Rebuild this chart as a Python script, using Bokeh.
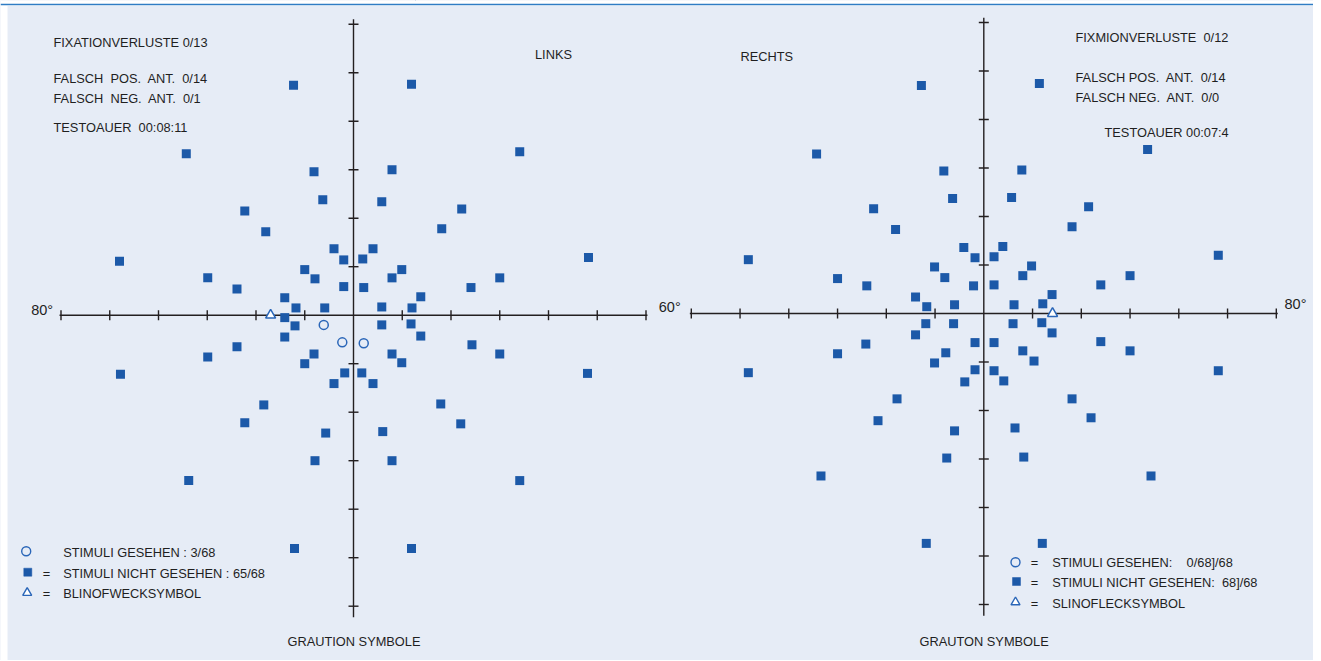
import numpy as np
from bokeh.plotting import figure
from bokeh.models import Range1d, Label, Span, BoxAnnotation
from bokeh.embed import file_html
from bokeh.resources import INLINE

# ---------------- data (degrees of visual field) ----------------
TICKS = [-60, -50, -40, -30, -20, -10, 10, 20, 30, 40, 50, 60]
AXIS_H = [-60.3, 60.3]
AXIS_V = [-62.3, 61.0]

L_NOT_SEEN_X = [-12.3, 11.9, -34.3, 34.1, -8.1, 7.9, -6.3, 5.8, -22.3, 22.2, -18.0, 18.1,
                -4.0, 4.0, -2.0, 1.9, -10.0, 9.9, -29.9, -7.9, 7.9, 30.0, -23.9, -2.0,
                2.1, 24.1, -14.1, 13.8, -11.8, -5.9, 5.8, 12.0, -14.1, -12.0, 5.8, 11.8,
                -14.1, 13.8, -23.9, 24.3, -29.9, 30.0, -8.1, 7.9, -10.0, 9.9, -1.8, 1.7,
                -4.0, 4.0, -18.4, 17.9, -22.3, 22.0, -5.7, 6.0, -7.9, 7.9, -33.8, 34.1,
                -48.0, 48.2, -47.8, 48.0, -12.1, 11.9]
L_NOT_SEEN_Y = [47.4, 47.6, 33.3, 33.7, 29.6, 30.0, 23.8, 23.4, 21.5, 21.9, 17.2, 17.8,
                13.7, 13.7, 11.4, 11.6, 9.4, 9.4, 7.7, 7.5, 7.7, 7.7, 5.4, 5.9,
                5.7, 5.7, 3.6, 3.8, 1.5, 1.5, 1.7, 1.5, -0.5, -2.2, -2.0, -1.8,
                -4.5, -4.3, -6.5, -6.1, -8.6, -8.0, -8.0, -8.0, -10.0, -9.8, -11.9, -11.9,
                -14.1, -14.1, -18.5, -18.3, -22.2, -22.4, -24.3, -24.0, -30.0, -30.0, -34.1, -34.1,
                11.1, 11.9, -12.2, -12.0, -48.1, -48.1]
L_SEEN_X = [-6.1, -2.3, 2.1]
L_SEEN_Y = [-2.0, -5.6, -5.8]
L_BLIND_X = [-17.0]
L_BLIND_Y = [0.0]

R_NOT_SEEN_X = [-34.3, 33.6, -8.2, 7.8, -6.4, 5.7, -22.6, 21.5, -18.1, 18.1, -4.1, 3.9,
                -1.8, 2.1, -10.1, 9.8, -30.0, -8.0, 8.0, 30.0, -24.0, -2.1, 2.1, 24.0,
                -14.0, 14.0, -11.7, -6.0, 6.2, 12.1, -11.9, -6.2, 6.0, 11.9, -14.0, 14.0,
                -24.2, 24.0, -30.0, 30.0, -1.8, 2.1, -7.8, 8.0, -10.1, 10.3, -1.8, 2.1,
                -3.9, 4.1, -17.8, 18.1, -21.7, 22.0, -6.0, 6.4, -7.6, 8.2, -33.4, 34.3,
                -12.8, 11.4, -48.3, 48.1, -48.3, 48.1, -11.8, 12.0]
R_NOT_SEEN_Y = [32.9, 33.8, 29.4, 29.6, 23.7, 23.9, 21.6, 22.0, 17.3, 17.9, 13.6, 13.8,
                11.5, 11.7, 9.6, 9.8, 7.2, 7.4, 7.8, 7.8, 5.7, 5.7, 5.9, 5.9,
                3.4, 3.9, 1.4, 1.8, 1.8, 2.0, -2.1, -2.1, -2.1, -1.9, -4.4, -4.0,
                -6.3, -5.8, -8.3, -7.7, -6.0, -6.0, -8.1, -7.7, -10.2, -9.8, -11.6, -11.8,
                -14.1, -13.9, -17.6, -17.6, -22.1, -21.5, -24.2, -23.6, -29.8, -29.6, -33.5, -33.5,
                47.0, 47.4, 11.1, 12.0, -12.2, -11.8, -47.4, -47.4]
R_BLIND_X = [14.1]
R_BLIND_Y = [0.0]

NB = "\u00a0"
LEFT_INFO = ["FIXATIONVERLUSTE 0/13",
             f"FALSCH{NB} POS.{NB} ANT.{NB} 0/14",
             f"FALSCH{NB} NEG.{NB} ANT.{NB} 0/1",
             f"TESTOAUER{NB} 00:08:11"]
RIGHT_INFO = [f"FIXMIONVERLUSTE{NB} 0/12",
              f"FALSCH POS.{NB} ANT.{NB} 0/14",
              f"FALSCH NEG.{NB} ANT.{NB} 0/0",
              "TESTOAUER 00:07:4"]
LEFT_LEGEND = ["STIMULI GESEHEN : 3/68", "STIMULI NICHT GESEHEN : 65/68", "BLINOFWECKSYMBOL"]
RIGHT_LEGEND = [f"STIMULI GESEHEN:{NB}{NB}{NB} 0/68]/68",
                f"STIMULI NICHT GESEHEN:{NB} 68]/68",
                "SLINOFLECKSYMBOL"]
TITLES = ["LINKS", "RECHTS"]
FOOTERS = ["GRAUTION SYMBOLE", "GRAUTON SYMBOLE"]
DEG_LABELS = ["80°", "60°", "80°"]

assert len(L_NOT_SEEN_X) == len(L_NOT_SEEN_Y)
assert len(R_NOT_SEEN_X) == len(R_NOT_SEEN_Y)

# ---------------- style / layout ----------------
W, H = 1313, 660
PX_X, PX_Y = 4.875, 4.85
BG = "#e6ecf6"
AXC = "#231f20"
TXT = "#1f1f1f"
SQ = "#1c59a8"
OPEN = "#2a66b8"
TOPLINE = "#2f7cc4"
FONT = "Liberation Sans"
FS = 12.8
LEFT_C = (353.0, 314.7)
RIGHT_C = (983.3, 313.0)


def ranges(c):
    fx, fy = c
    return (Range1d(-fx / PX_X, (W - fx) / PX_X),
            Range1d(-(H - fy) / PX_Y, fy / PX_Y))


def xd(px, c=LEFT_C):
    return (px - c[0]) / PX_X


def yd(py, c=LEFT_C):
    return (c[1] - py) / PX_Y


lx, ly = ranges(LEFT_C)
rx, ry = ranges(RIGHT_C)

p = figure(width=W, height=H, x_range=lx, y_range=ly, output_backend="svg",
           toolbar_location=None, x_axis_location=None, y_axis_location=None,
           min_border=0, background_fill_color=BG, border_fill_color=BG,
           outline_line_color=None)
p.grid.visible = False
p.extra_x_ranges = {"R": rx}
p.extra_y_ranges = {"R": ry}

# page frame: white margin strip left and top, thin blue rule on top
p.add_layout(BoxAnnotation(right=xd(7), fill_color="white", fill_alpha=1, line_color=None))
p.add_layout(BoxAnnotation(bottom=yd(5.5), fill_color="white", fill_alpha=1, line_color=None))
p.add_layout(Span(location=yd(4), dimension="width", line_color=TOPLINE, line_width=1.6))
p.segment(x0=[xd(415)], y0=[yd(0)], x1=[xd(415)], y1=[yd(4)], line_color="#4a6f99", line_width=1)


def panel(rn, ns_x, ns_y, blind_x, blind_y, seen_x=None, seen_y=None):
    kw = dict(x_range_name=rn, y_range_name=rn)
    p.segment(x0=[AXIS_H[0], 0], y0=[0, AXIS_V[0]], x1=[AXIS_H[1], 0], y1=[0, AXIS_V[1]],
              line_color=AXC, line_width=1.4, **kw)
    p.scatter(x=TICKS, y=[0] * len(TICKS), marker="dash", angle=np.pi / 2, size=10,
              line_color=AXC, line_width=1.4, **kw)
    p.scatter(x=[0] * len(TICKS), y=TICKS, marker="dash", size=10,
              line_color=AXC, line_width=1.4, **kw)
    p.scatter(x=ns_x, y=ns_y, marker="square", size=9, fill_color=SQ, line_color=None, **kw)
    if seen_x:
        p.scatter(x=seen_x, y=seen_y, marker="circle", size=9, fill_color=None,
                  line_color=OPEN, line_width=1.5, **kw)
    p.scatter(x=blind_x, y=blind_y, marker="triangle", size=10, fill_color="white",
              line_color=OPEN, line_width=1.5, **kw)


panel("default", L_NOT_SEEN_X, L_NOT_SEEN_Y, L_BLIND_X, L_BLIND_Y, L_SEEN_X, L_SEEN_Y)
panel("R", R_NOT_SEEN_X, R_NOT_SEEN_Y, R_BLIND_X, R_BLIND_Y)


def lab(text, px, baseline, size=FS, font=FONT, align="left"):
    # empirical: rendered baseline sits ~0.355em below the requested y
    yb = baseline - 0.355 * size
    p.add_layout(Label(x=px, y=H - yb, x_units="screen", y_units="screen",
                       text=text, text_font=font, text_font_size=f"{size}px", text_color=TXT,
                       text_align=align, text_baseline="alphabetic"))


# info blocks
for t, yy in zip(LEFT_INFO, [46.5, 83.0, 102.7, 131.5]):
    lab(t, 53, yy)
for t, (xx, yy) in zip(RIGHT_INFO, [(1075, 41.7), (1075, 82.0), (1075, 101.7), (1104, 136.5)]):
    lab(t, xx, yy)
lab(TITLES[0], 534.5, 58.3)
lab(TITLES[1], 740, 60.5)
lab(FOOTERS[0], 287, 646)
lab(FOOTERS[1], 919, 646)
lab(DEG_LABELS[0], 30.7, 315, size=14.5)
lab(DEG_LABELS[1], 658.3, 311.7, size=14.5)
lab(DEG_LABELS[2], 1284, 308.3, size=14.5)

# legends
for i, (t, yy) in enumerate(zip(LEFT_LEGEND, [556.7, 577.3, 597.7])):
    lab(t, 62.7, yy)
    if i > 0:
        lab("=", 46, yy, align="center")
for t, yy in zip(RIGHT_LEGEND, [566.7, 586.7, 607.3]):
    lab(t, 1051.7, yy)
    lab("=", 1034, yy, align="center")


def legend_marks(c, rn, pts):
    kw = dict(x_range_name=rn, y_range_name=rn)
    specs = [("circle", None, 9), ("square", SQ, 8), ("triangle", "white", 9)]
    for (mk, fc, sz), (px, py) in zip(specs, pts):
        p.scatter(x=[xd(px, c)], y=[yd(py, c)], marker=mk, size=sz,
                  fill_color=fc, line_color=SQ if mk == "square" else OPEN,
                  line_width=1.4 if mk != "square" else 0.5, **kw)


legend_marks(LEFT_C, "default", [(25.7, 550.7), (27.3, 571.7), (26.7, 592.3)])
legend_marks(RIGHT_C, "R", [(1015, 561.7), (1016, 581), (1015, 601.7)])

open("out.html", "w").write(file_html(p, INLINE))
